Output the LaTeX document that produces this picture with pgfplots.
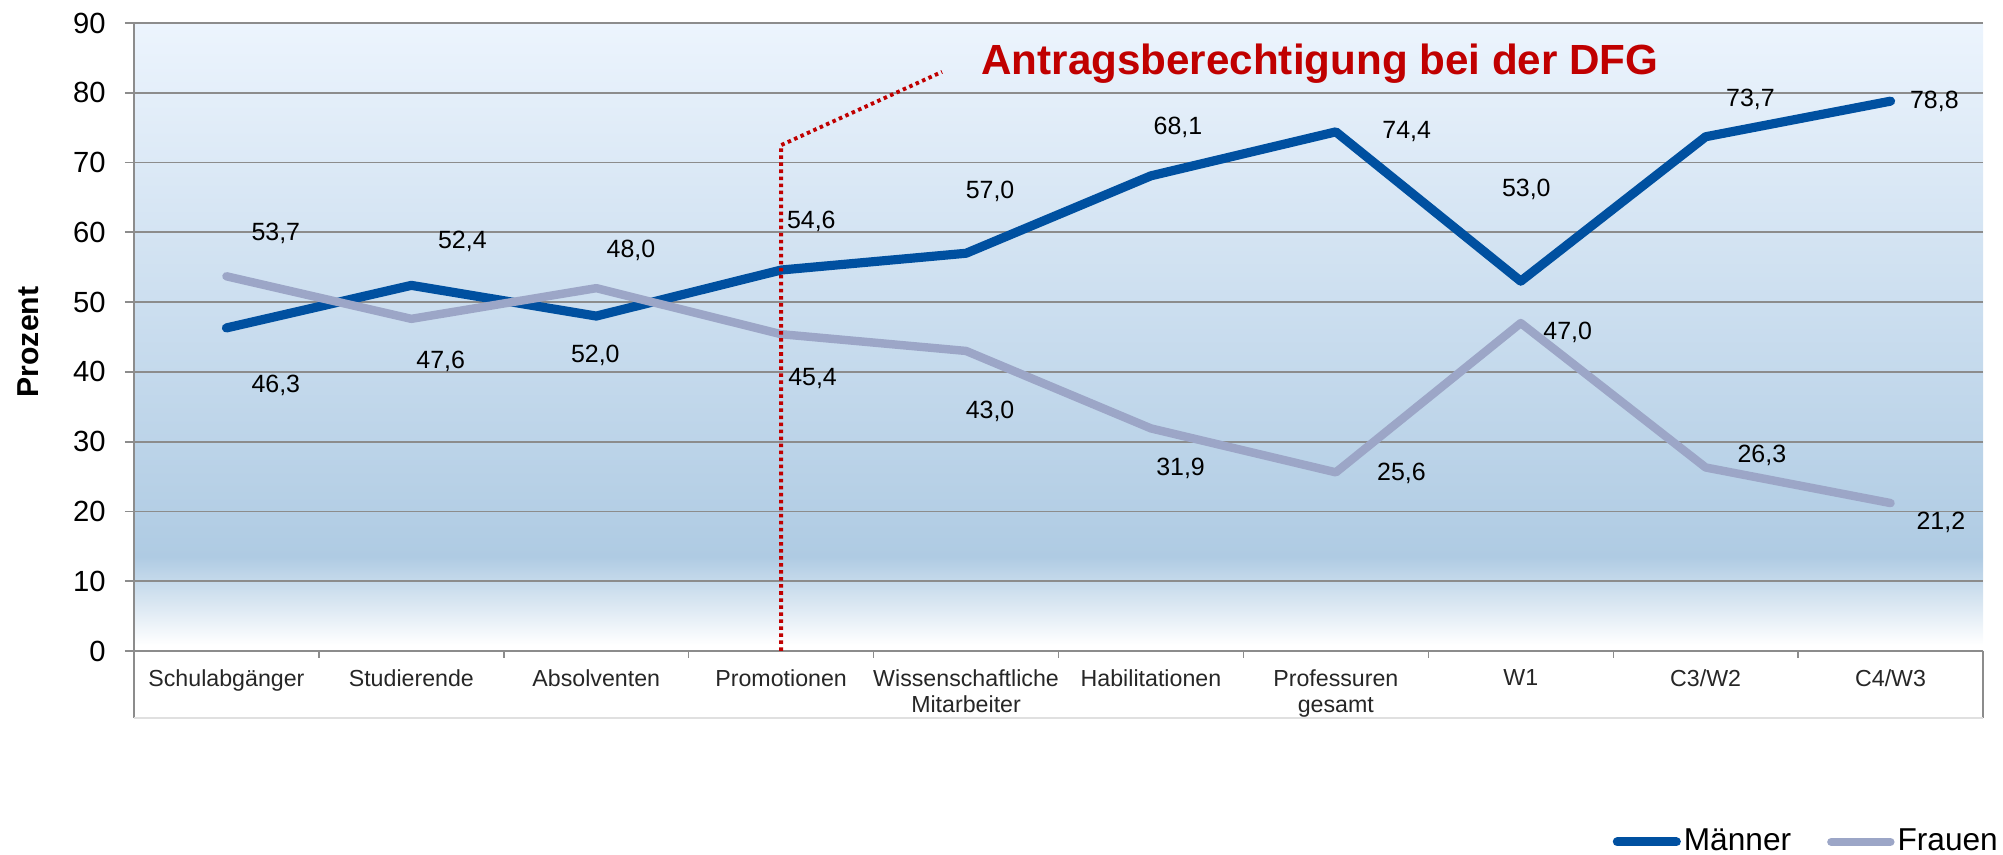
\documentclass[border=0pt]{standalone}
\usepackage{fontspec}
\setmainfont{Liberation Sans}
\usepackage{pgfplots}
\pgfplotsset{compat=1.18}
\definecolor{maenner}{HTML}{0050A0}
\definecolor{frauen}{HTML}{9CA6C7}
\definecolor{dfgred}{HTML}{C00000}
\definecolor{gridgray}{HTML}{8C8C8C}
\definecolor{bgtop}{HTML}{ECF4FD}
\definecolor{bgmid}{HTML}{AFCBE3}
\pgfdeclareverticalshading{bgshade}{100bp}{color(0bp)=(white); color(25bp)=(white); color(25.5bp)=(white); color(32.5bp)=(bgmid); color(75bp)=(bgtop); color(100bp)=(bgtop)}
\begin{document}
\begin{tikzpicture}
\useasboundingbox (-13.4mm,-20.4mm) rectangle (186.9mm,65.1mm);
\begin{axis}[
  at={(0,0)}, anchor=south west,
  scale only axis, width=184.9mm, height=62.8mm,
  xmin=-0.5, xmax=9.5, ymin=0, ymax=90,
  clip=false,
  axis background/.style={shade, shading=bgshade},
  axis x line=bottom, axis y line=left,
  axis line style={-, draw=gridgray, line width=0.6pt},
  ytick={0,10,...,90},
  ymajorgrids, grid style={gridgray, line width=0.5pt},
  tick align=outside,
  major tick length=0.9mm,
  ytick style={gridgray, line width=0.5pt},
  xtick={0,...,9},
  xtick style={draw=none},
  xticklabels={Schulabgänger, Studierende, Absolventen, Promotionen, {Wissenschaftliche\\Mitarbeiter}, Habilitationen, {Professuren\\gesamt}, W1, C3/W2, C4/W3},
  xticklabel style={font=\fontsize{6.6}{7.2}\selectfont, align=center, anchor=north, yshift=0.25mm, text=black!85},
  extra x ticks={0.5,1.5,...,8.5},
  extra x tick labels={},
  extra x tick style={grid=none, xtick style={draw=gridgray, line width=0.4pt}, major tick length=0.7mm},
  /pgf/number format/assume math mode=true,
  yticklabel style={font=\fontsize{8.3}{9.5}\selectfont, xshift=-0.7mm},
  ylabel={Prozent},
  ylabel style={at={(axis description cs:-0.0573,0.492)}, anchor=center, font=\bfseries\fontsize{8.6}{10}\selectfont},
  legend columns=2,
  legend style={at={(axis description cs:1.0157,-0.304)}, anchor=east, draw=none, fill=none,
    font=\fontsize{9}{10}\selectfont, nodes={inner sep=0.3mm},
    /tikz/every even column/.append style={column sep=3.3mm}},
  legend image code/.code={\draw[#1] (0mm,0mm) -- (5.9mm,0mm);},
]
\addplot[maenner, line width=2.6pt, line cap=round, line join=round] coordinates {
  (0,46.3) (1,52.4) (2,48.0) (3,54.6) (4,57.0) (5,68.1) (6,74.4) (7,53.0) (8,73.7) (9,78.8)};
\addlegendentry{Männer}
\addplot[frauen, line width=2.4pt, line cap=round, line join=round] coordinates {
  (0,53.7) (1,47.6) (2,52.0) (3,45.4) (4,43.0) (5,31.9) (6,25.6) (7,47.0) (8,26.3) (9,21.2)};
\addlegendentry{Frauen}

% box below the axis
\draw[gridgray, line width=0.4pt] (axis cs:-0.5,0) -- (axis cs:-0.5,-9.6);
\draw[gridgray, line width=0.4pt] (axis cs:9.5,0) -- (axis cs:9.5,-9.6);
\draw[black!12, line width=0.5pt] (axis cs:-0.5,-9.6) -- (axis cs:9.5,-9.6);

% DFG marker
\draw[dfgred, line width=1.1pt, dash pattern=on 1pt off 1pt] (axis cs:3,0) -- (axis cs:3,72.5) -- (axis cs:3.87,83);
\node[font=\bfseries\fontsize{12}{14}\selectfont, text=dfgred] at (axis cs:5.914,84.1) {Antragsberechtigung bei der DFG};

% data labels Männer
\node[font=\fontsize{7.1}{8}\selectfont] at (axis cs:0.267,38.0) {46,3};
\node[font=\fontsize{7.1}{8}\selectfont] at (axis cs:1.276,58.7) {52,4};
\node[font=\fontsize{7.1}{8}\selectfont] at (axis cs:2.188,57.4) {48,0};
\node[font=\fontsize{7.1}{8}\selectfont] at (axis cs:3.163,61.6) {54,6};
\node[font=\fontsize{7.1}{8}\selectfont] at (axis cs:4.130,65.8) {57,0};
\node[font=\fontsize{7.1}{8}\selectfont] at (axis cs:5.146,75.0) {68,1};
\node[font=\fontsize{7.1}{8}\selectfont] at (axis cs:6.383,74.4) {74,4};
\node[font=\fontsize{7.1}{8}\selectfont] at (axis cs:7.030,66.2) {53,0};
\node[font=\fontsize{7.1}{8}\selectfont] at (axis cs:8.242,79.0) {73,7};
\node[font=\fontsize{7.1}{8}\selectfont] at (axis cs:9.237,78.7) {78,8};
% data labels Frauen
\node[font=\fontsize{7.1}{8}\selectfont] at (axis cs:0.267,59.8) {53,7};
\node[font=\fontsize{7.1}{8}\selectfont] at (axis cs:1.159,41.5) {47,6};
\node[font=\fontsize{7.1}{8}\selectfont] at (axis cs:1.995,42.3) {52,0};
\node[font=\fontsize{7.1}{8}\selectfont] at (axis cs:3.170,39.1) {45,4};
\node[font=\fontsize{7.1}{8}\selectfont] at (axis cs:4.130,34.4) {43,0};
\node[font=\fontsize{7.1}{8}\selectfont] at (axis cs:5.160,26.2) {31,9};
\node[font=\fontsize{7.1}{8}\selectfont] at (axis cs:6.355,25.4) {25,6};
\node[font=\fontsize{7.1}{8}\selectfont] at (axis cs:7.254,45.7) {47,0};
\node[font=\fontsize{7.1}{8}\selectfont] at (axis cs:8.304,28.0) {26,3};
\node[font=\fontsize{7.1}{8}\selectfont] at (axis cs:9.272,18.5) {21,2};
\end{axis}
\end{tikzpicture}
\end{document}
